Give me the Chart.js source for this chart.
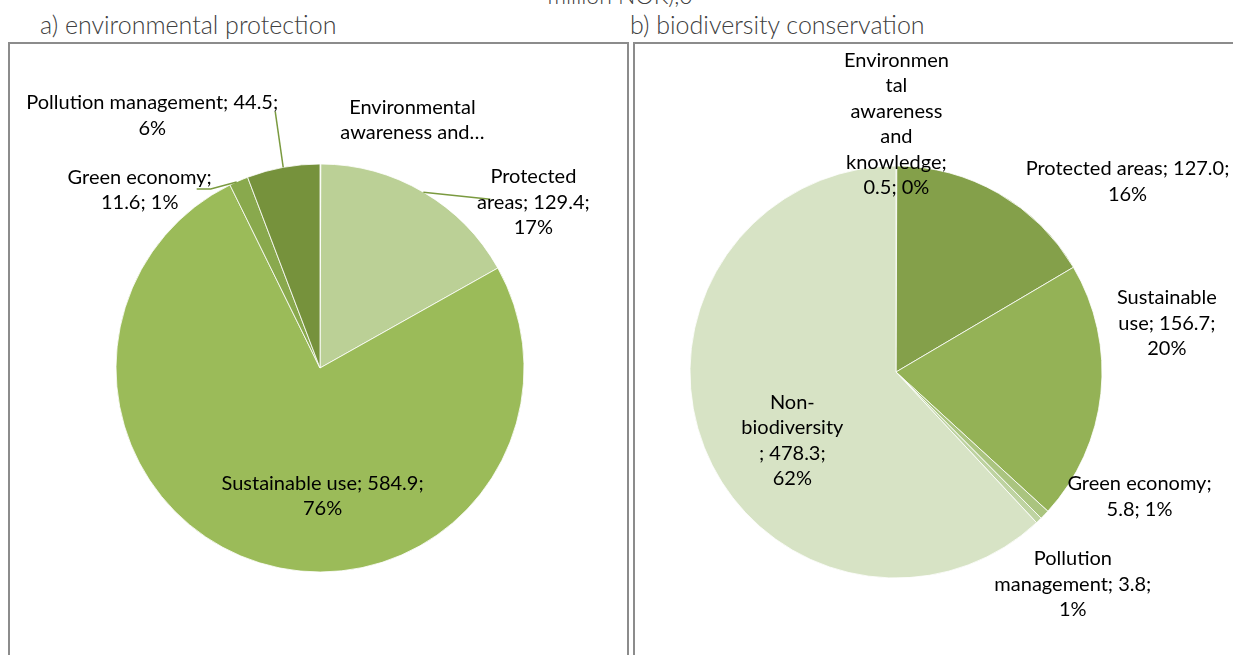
<!DOCTYPE html>
<html>
<head>
<meta charset="utf-8">
<script src="https://cdn.jsdelivr.net/npm/chart.js@4.4.1/dist/chart.umd.min.js"></script>
<style>
  html, body { margin: 0; padding: 0; background: #fff; }
  body { width: 1233px; height: 655px; overflow: hidden; position: relative; font-family: Lato, "Open Sans", sans-serif; }
  .cut { position: absolute; left: 0; width: 1240px; top: -19px; text-align: center; font-size: 23px; font-weight: 300; color: #404040; }
  .title { position: absolute; top: 9px; font-size: 25px; font-weight: 300; color: #404040; white-space: nowrap; }
  .panel { position: absolute; top: 42px; height: 640px; border: 2px solid #8c8c8c; box-sizing: border-box; }
  canvas { position: absolute; }
</style>
</head>
<body>
<div class="cut">million NOK),0</div>
<div class="title" style="left:40px">a) environmental protection</div>
<div class="title" style="left:630px">b) biodiversity conservation</div>
<div class="panel" style="left:8px; width:621px"></div>
<div class="panel" style="left:633px; width:620px"></div>
<canvas id="pieA" width="616" height="611" style="left:10px; top:44px"></canvas>
<canvas id="pieB" width="598" height="611" style="left:635px; top:44px"></canvas>

<script>
// a) environmental protection
const categoriesA = ['Environmental awareness and knowledge', 'Protected areas', 'Sustainable use', 'Green economy', 'Pollution management'];
const valuesA = [0.5, 129.4, 584.9, 11.6, 44.5];
const percentA = [0, 17, 76, 1, 6];
const colorsA = ['#C4D79B', '#BBD096', '#9BBB59', '#89A94D', '#76923C'];

// b) biodiversity conservation
const categoriesB = ['Environmental awareness and knowledge', 'Protected areas', 'Sustainable use', 'Green economy', 'Pollution management', 'Non-biodiversity'];
const valuesB = [0.5, 127.0, 156.7, 5.8, 3.8, 478.3];
const percentB = [0, 16, 20, 1, 1, 62];
const colorsB = ['#76923C', '#84A04A', '#94B256', '#AAC47F', '#BED3A1', '#D7E3C5'];

const LABEL_FONT = '20px Lato, "Open Sans", sans-serif';
const LINE_H = 25.5;

// label placement per slice: offset of the text block from the slice's outer midpoint,
// wrap width, optional line limit and leader polyline (also relative to the midpoint)
const placeA = [
  { dx: 92, dy: -44, w: 145, maxLines: 2 },
  { dx: 110, dy: 10, w: 120, leader: [[0, 0], [67, 7]] },
  { dx: 63, dy: -67, w: 228 },
  { dx: -99, dy: 9, w: 152, leader: [[-2, 1], [-28, 8], [-42, 8]] },
  { dx: -131, dy: -52, w: 262, leader: [[0, 0], [-8, -56]] }
];
const placeB = [
  { dx: 0, dy: -42, w: 106 },
  { dx: 129, dy: -12, w: 215 },
  { dx: 66, dy: -70, w: 110 },
  { dx: 95, dy: -18, w: 155 },
  { dx: 34, dy: 64, w: 172 },
  { dx: 88, dy: -7, w: 104 }
];

function wrapText(ctx, text, maxW, maxLines) {
  const pieces = text.split(/(?<=[ -])/);
  const fits = s => ctx.measureText(s.trimEnd()).width <= maxW;
  const lines = [];
  let cur = '';
  for (let piece of pieces) {
    if (fits(cur + piece)) { cur += piece; continue; }
    if (cur.trim()) { lines.push(cur.trimEnd()); cur = ''; }
    // a single word wider than the box gets broken by characters
    while (!fits(piece)) {
      let n = piece.length;
      while (n > 1 && ctx.measureText(piece.slice(0, n)).width > maxW) n--;
      lines.push(piece.slice(0, n));
      piece = piece.slice(n);
    }
    cur = piece;
  }
  if (cur.trim()) lines.push(cur.trimEnd());
  if (maxLines && lines.length > maxLines) {
    lines.length = maxLines;
    lines[maxLines - 1] += '\u2026';
  }
  return lines;
}

const sliceLabels = {
  id: 'sliceLabels',
  afterDatasetsDraw(chart, args, opts) {
    const ctx = chart.ctx;
    const meta = chart.getDatasetMeta(0);
    const data = chart.data.datasets[0].data;
    ctx.save();
    ctx.font = LABEL_FONT;
    ctx.textAlign = 'center';
    ctx.textBaseline = 'middle';
    meta.data.forEach((arc, i) => {
      const p = arc.getProps(['x', 'y', 'startAngle', 'endAngle', 'outerRadius'], true);
      const mid = (p.startAngle + p.endAngle) / 2;
      const ax = p.x + Math.cos(mid) * p.outerRadius;
      const ay = p.y + Math.sin(mid) * p.outerRadius;
      const pl = opts.places[i];
      if (pl.leader) {
        ctx.strokeStyle = '#7A9A3F';
        ctx.lineWidth = 1.5;
        ctx.beginPath();
        pl.leader.forEach(([lx, ly], k) => k ? ctx.lineTo(ax + lx, ay + ly) : ctx.moveTo(ax + lx, ay + ly));
        ctx.stroke();
      }
      const text = `${chart.data.labels[i]}; ${data[i].toFixed(1)}; ${opts.percents[i]}%`;
      const lines = wrapText(ctx, text, pl.w, pl.maxLines);
      const top = ay + pl.dy - (lines.length - 1) * LINE_H / 2;
      ctx.fillStyle = '#000';
      lines.forEach((ln, k) => ctx.fillText(ln, ax + pl.dx, top + k * LINE_H));
    });
    ctx.restore();
  }
};

function makePie(id, labels, values, colors, percents, places, radius, padding) {
  return new Chart(document.getElementById(id), {
    type: 'pie',
    data: {
      labels: labels,
      datasets: [{
        data: values,
        backgroundColor: colors,
        borderColor: '#ffffff',
        borderWidth: 0.8
      }]
    },
    options: {
      responsive: false,
      animation: false,
      radius: radius,
      layout: { padding: padding },
      plugins: {
        legend: { display: false },
        tooltip: { enabled: false },
        sliceLabels: { places: places, percents: percents }
      }
    },
    plugins: [sliceLabels]
  });
}

makePie('pieA', categoriesA, valuesA, colorsA, percentA, placeA, 204, { left: 106, right: 102, top: 120, bottom: 83 });
makePie('pieB', categoriesB, valuesB, colorsB, percentB, placeB, 206, { left: 55, right: 131, top: 122, bottom: 77 });
</script>
</body>
</html>
